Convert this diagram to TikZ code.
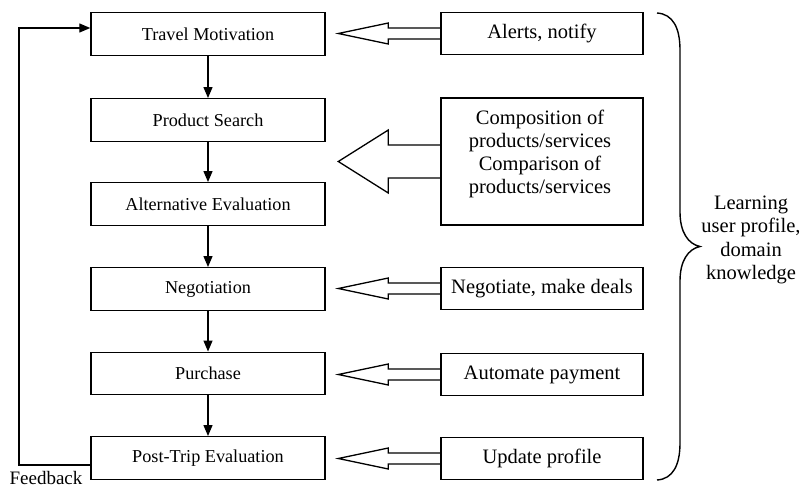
\documentclass[tikz,border=0pt]{standalone}
\usepackage{fontspec}
\setmainfont{Liberation Serif}
\usetikzlibrary{arrows.meta}
\tikzset{
  stagebox/.style={draw, line width=1.4pt, minimum width=234pt, minimum height=42.5pt, inner sep=0pt, font=\fontsize{18.2}{22}\selectfont},
  agentbox/.style={draw, line width=1.4pt, minimum width=202pt, minimum height=42.5pt, inner sep=0pt, font=\fontsize{20.5}{22.7}\selectfont},
  flow/.style={line width=1.2pt, -{Triangle[length=11pt,width=9pt]}},
  hollowarrow/.style={line width=1.3pt, line join=miter}
}
\newcommand{\hollowto}[3]{%
  \draw[hollowarrow] (#1.west) ++(0,-#2) -- ++(-52,0) -- ++(0,-#3+#2) -- ++(-50,#3) -- ++(50,#3) -- ++(0,-#3+#2) -- ++(52,0);}
\begin{document}
\begin{tikzpicture}[x=1pt,y=-1pt]
\useasboundingbox (0,0) rectangle (801,488);
% left stages
\node[stagebox] (s1) at (208,34) {Travel Motivation};
\node[stagebox] (s2) at (208,120) {Product Search};
\node[stagebox] (s3) at (208,204) {Alternative Evaluation};
\node[stagebox] (s4) at (208,289) {Negotiation};
\node[stagebox] (s5) at (208,373.5) {Purchase};
\node[stagebox] (s6) at (208,458) {Post-Trip Evaluation};
\draw[flow] (s1) -- (s2);
\draw[flow] (s2) -- (s3);
\draw[flow] (s3) -- (s4);
\draw[flow] (s4) -- (s5);
\draw[flow] (s5) -- (s6);
% feedback
\coordinate (fb1) at (19,465);
\coordinate (fb2) at (19,28);
\draw[flow] (s6.west |- fb1) -- (fb1) -- (fb2) -- (s1.west |- fb2);
\node[anchor=base, font=\fontsize{19}{22}\selectfont, inner sep=0pt] (fbtext) at (46,484) {Feedback};
% right agent boxes
\node[agentbox] (r1) at (542,33.5) {Alerts, notify};
\node[agentbox, minimum height=127pt] (r2) at (542,161.5) {};
\node[align=center, font=\fontsize{20.5}{22.7}\selectfont, inner sep=0pt] (r2text) at (540,154) {Composition of\\products/services\\Comparison of\\products/services};
\node[agentbox] (r3) at (542,288.5) {Negotiate, make deals};
\node[agentbox] (r4) at (542,374.5) {Automate payment};
\node[agentbox] (r5) at (542,458.5) {Update profile};
% hollow arrows
\hollowto{r1}{5.5}{10.5}
\hollowto{r2}{16.5}{31.5}
\hollowto{r3}{5.5}{10.5}
\hollowto{r4}{5.5}{10.5}
\hollowto{r5}{5.5}{10.5}
% brace
\draw[line width=1.4pt] (657,13) .. controls (673,14) and (680,28) .. (680,50) -- (680,212)
  .. controls (680,232) and (688,244) .. (700,246.5)
  .. controls (688,249) and (680,261) .. (680,281) -- (680,443)
  .. controls (680,465) and (673,479) .. (657,480);
\node[align=center, font=\fontsize{20.5}{23.5}\selectfont, inner sep=0pt] (learn) at (751,240) {Learning\\user profile,\\domain\\knowledge};
\end{tikzpicture}
\end{document}
